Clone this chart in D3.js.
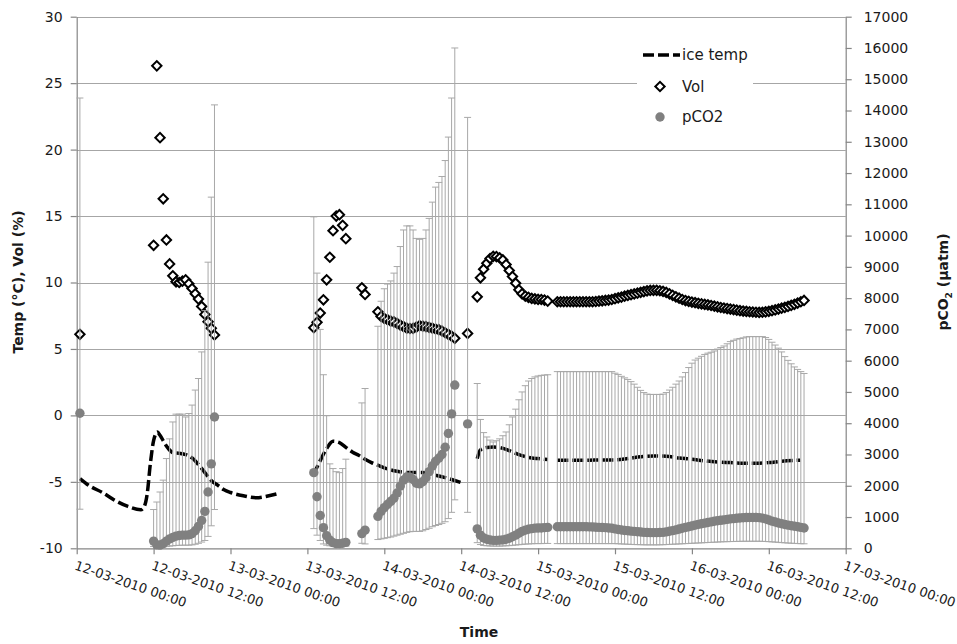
<!DOCTYPE html>
<html><head><meta charset="utf-8">
<script src="https://cdn.jsdelivr.net/npm/d3@7"></script>
<style>
body{margin:0;background:#fff}
svg{display:block}
text{font-family:"DejaVu Sans",sans-serif;fill:#1a1a1a}
</style>
</head><body>
<svg id="c" width="957" height="644"></svg>
<script>
// ---------------- DATA ----------------
// axis tick labels
const leftTicks  = [-10,-5,0,5,10,15,20,25,30];
const rightTicks = [0,1000,2000,3000,4000,5000,6000,7000,8000,9000,10000,11000,12000,13000,14000,15000,16000,17000];
const xTickLabels = ["2010-03-12T00:00","2010-03-12T12:00","2010-03-13T00:00","2010-03-13T12:00","2010-03-14T00:00",
  "2010-03-14T12:00","2010-03-15T00:00","2010-03-15T12:00","2010-03-16T00:00","2010-03-16T12:00","2010-03-17T00:00"];

// measurement runs: start time and number of 30-min samples
const segStart = ["2010-03-12T00:30","2010-03-12T12:00","2010-03-13T13:00","2010-03-13T20:30",
                  "2010-03-13T23:00","2010-03-14T13:00","2010-03-14T14:30","2010-03-15T03:00"];
const segCount = [1, 20, 11, 2, 25, 1, 23, 78];

// Vol (%) – left axis
const volPct = [
 6.1,
 12.8,26.3,20.9,16.3,13.2,11.4,10.5,10.05,10.0,10.1,10.2,9.9,9.55,9.15,8.75,8.2,7.6,7.05,6.55,6.05,
 6.6,7.0,7.7,8.7,10.2,11.9,13.9,15.0,15.1,14.3,13.3,
 9.6,9.1,
 7.8,7.45,7.3,7.2,7.1,7.04,6.92,6.8,6.68,6.56,6.54,6.55,6.65,6.75,6.72,6.68,6.62,6.56,6.5,6.45,6.35,6.22,6.1,5.96,5.8,
 6.17,
 8.92,10.35,11.0,11.45,11.8,11.97,11.95,11.85,11.7,11.35,10.9,10.45,9.95,9.45,9.15,8.98,8.88,8.8,8.76,8.73,8.72,8.68,8.6,
 8.55,8.55,8.55,8.55,8.55,8.55,8.55,8.55,8.55,8.55,8.55,8.55,8.57,8.6,8.62,8.65,8.68,8.72,8.78,8.85,
 8.9,8.97,9.03,9.08,9.14,9.2,9.26,9.32,9.37,9.4,9.41,9.41,9.38,9.33,9.25,9.15,9.03,8.92,8.82,8.72,
 8.64,8.58,8.53,8.48,8.43,8.39,8.35,8.31,8.27,8.22,8.17,8.12,8.08,8.04,8.0,7.96,7.92,7.88,7.85,7.82,
 7.8,7.78,7.76,7.75,7.76,7.79,7.83,7.88,7.94,8.0,8.07,8.13,8.2,8.28,8.36,8.45,8.55,8.65
];

// pCO2 (µatm) – right axis
const pco2 = [
 4320,
 230,110,100,150,230,300,350,390,410,420,420,430,470,560,700,890,1180,1800,2700,4200,
 2420,1650,1050,660,400,260,180,150,150,160,190,
 470,580,
 1020,1180,1300,1400,1500,1600,1770,1990,2180,2280,2270,2200,2080,2060,2130,2260,2450,2630,2780,2880,3000,3230,3670,4300,5220,
 3980,
 620,420,330,290,265,255,255,260,270,290,320,370,420,480,540,580,610,630,645,650,650,660,670,
 690,690,690,690,690,690,690,690,690,690,685,680,675,670,665,660,650,640,620,600,
 585,570,560,550,540,530,520,510,505,500,500,500,505,510,525,545,565,590,615,640,
 665,690,715,740,765,785,805,825,845,865,880,895,910,925,940,950,960,970,978,983,
 985,985,985,980,965,940,905,870,840,810,785,760,740,720,705,690,670,650
];

// pCO2 error bar ends (upper / lower, µatm)
const pco2Hi = [
 14400,
 1240,1480,1800,2180,2870,3500,4040,4290,4290,4290,4200,4310,4580,5060,5430,6280,7600,9150,11230,14180,
 10600,8800,7000,5550,4240,2700,2550,2450,2420,2550,2850,
 4650,5110,
 7100,7900,8300,8450,8550,8800,9010,9650,10180,10310,10310,10180,9910,9880,9910,10180,10550,11070,11550,11700,11890,12400,13150,14400,16000,
 13780,
 5270,4120,3700,3560,3460,3400,3440,3500,3600,3720,3950,4200,4450,4750,5000,5200,5350,5430,5480,5510,5530,5540,5550,
 5650,5650,5650,5650,5650,5650,5650,5650,5650,5650,5650,5650,5650,5650,5650,5650,5650,5650,5600,5560,
 5500,5450,5400,5330,5250,5150,5050,4980,4930,4920,4920,4920,4920,4930,4980,5060,5150,5250,5350,5480,
 5620,5780,5920,6020,6080,6140,6200,6240,6270,6310,6370,6420,6470,6540,6610,6650,6690,6710,6730,6760,
 6770,6770,6770,6770,6770,6740,6680,6590,6500,6400,6280,6130,6010,5900,5800,5720,5650,5590
];
const pco2Lo = [
 1250,
 60,40,40,50,60,70,80,90,95,100,100,100,110,130,160,200,250,380,720,1240,
 630,420,250,140,100,80,70,60,60,65,70,
 160,140,
 280,300,320,340,360,390,420,450,480,510,530,540,540,540,560,600,640,690,730,760,800,850,950,1150,1550,
 1150,
 180,120,90,80,75,70,70,70,75,80,85,95,105,115,125,135,140,145,150,150,150,155,155,
 150,150,150,150,150,150,150,150,150,150,150,150,150,150,150,150,150,150,150,145,
 140,135,130,125,120,118,115,112,110,110,110,110,112,115,120,125,130,135,140,145,
 150,155,160,165,170,175,180,185,190,195,200,205,210,212,215,218,220,222,224,225,
 225,225,225,225,222,218,212,205,198,190,182,175,168,162,157,152,148,145
];

// ice temperature (°C) – hours since 12-03-2010 00:00, null = gap
const iceHours = [0.5,2,4,6,8,10,10.5,11,11.5,12,12.6,13,14,15,16,17,18,19,20,21,22,23,24,26,28,30,31.3,
  34,
  36.9,38,39,40,41,42,43,44,45,46,47,48,50,52,54,56,58,60.3,
  61.5,
  62.5,63,64,65,66,67,68,69,70,71,72,73.5,
  74.2,
  75,76,78,80,82,84,86,88,90,92,94,96,98,100,102,104,106,108,110,112.9];
const iceTemp = [-4.75,-5.3,-5.8,-6.4,-6.85,-7.1,-6.9,-5.9,-3.6,-1.9,-1.25,-1.5,-2.3,-2.8,-2.85,-2.95,-3.2,-3.7,-4.3,-4.9,-5.25,-5.6,-5.8,-6.05,-6.2,-6.05,-5.9,
  null,
  -4.5,-3.4,-2.5,-1.95,-2.05,-2.4,-2.75,-3.0,-3.3,-3.55,-3.75,-3.95,-4.2,-4.3,-4.3,-4.5,-4.75,-5.1,
  null,
  -3.25,-2.6,-2.42,-2.38,-2.42,-2.55,-2.75,-2.95,-3.1,-3.2,-3.25,-3.32,
  null,
  -3.37,-3.38,-3.38,-3.37,-3.35,-3.35,-3.25,-3.12,-3.05,-3.08,-3.2,-3.3,-3.42,-3.5,-3.55,-3.6,-3.6,-3.55,-3.45,-3.37];

// ---------------- CHART ----------------
const m = {left:76.7, right:845.7, top:16.7, bottom:548.3};
const parse = d3.timeParse("%Y-%m-%dT%H:%M");
const tStart = parse("2010-03-12T00:00"), tEnd = parse("2010-03-17T00:00");
const x  = d3.scaleTime().domain([tStart, tEnd]).range([m.left, m.right]);
const yL = d3.scaleLinear().domain([-10, 30]).range([m.bottom, m.top]);
const yR = d3.scaleLinear().domain([0, 17000]).range([m.bottom, m.top]);

const samples = [];
let k = 0;
segStart.forEach((s, i) => {
  const st = parse(s);
  for (let j = 0; j < segCount[i]; j++, k++) {
    samples.push({t: d3.timeMinute.offset(st, 30 * j), vol: volPct[k], p: pco2[k], hi: pco2Hi[k], lo: pco2Lo[k]});
  }
});
const ice = iceHours.map((h, i) => ({t: d3.timeMinute.offset(tStart, Math.round(h * 60)), v: iceTemp[i]}));

const svg = d3.select("#c");
const axisCol = "#868686", gridCol = "#a6a6a6";

// gridlines
svg.append("g").selectAll("line").data(leftTicks.filter(v => v > -10)).join("line")
  .attr("x1", m.left).attr("x2", m.right)
  .attr("y1", d => Math.round(yL(d)) + 0.5).attr("y2", d => Math.round(yL(d)) + 0.5)
  .attr("stroke", gridCol).attr("stroke-width", 1);

// axes
function styleAxis(g) {
  g.select(".domain").attr("stroke", axisCol).attr("stroke-width", 1.2);
  g.selectAll(".tick line").attr("stroke", axisCol).attr("stroke-width", 1.2);
  g.selectAll("text").attr("font-family", "DejaVu Sans").attr("font-size", 14).attr("fill", "#1a1a1a");
}
const gL = svg.append("g").attr("transform", `translate(${m.left},0)`)
  .call(d3.axisLeft(yL).tickValues(leftTicks).tickSize(6).tickSizeOuter(0).tickPadding(8).tickFormat(d => String(d)));
styleAxis(gL);
const gR = svg.append("g").attr("transform", `translate(${m.right},0)`)
  .call(d3.axisRight(yR).tickValues(rightTicks).tickSize(6).tickSizeOuter(0).tickPadding(12).tickFormat(d => String(d)));
styleAxis(gR);
const gB = svg.append("g").attr("transform", `translate(0,${m.bottom})`)
  .call(d3.axisBottom(x).tickValues(xTickLabels.map(parse)).tickSize(6).tickSizeOuter(0)
        .tickFormat(d3.timeFormat("%d-%m-%Y %H:%M")));
styleAxis(gB);
gB.selectAll("text")
  .attr("font-family", "DejaVu Sans Condensed").attr("font-size", 13)
  .attr("text-anchor", "start").attr("x", 0).attr("y", 0).attr("dy", "0.8em")
  .attr("transform", "translate(0,11) rotate(19)");

// axis titles
svg.append("text").attr("transform", "translate(23,282) rotate(-90)").attr("text-anchor", "middle")
  .attr("font-weight", "bold").attr("font-size", 14).text("Temp (°C), Vol (%)");
const rt = svg.append("text").attr("transform", "translate(948,282) rotate(-90)").attr("text-anchor", "middle")
  .attr("font-weight", "bold").attr("font-size", 14);
rt.append("tspan").text("pCO");
rt.append("tspan").attr("font-size", 9).attr("dy", 4).text("2");
rt.append("tspan").attr("dy", -4).text(" (µatm)");
svg.append("text").attr("x", 479).attr("y", 637).attr("text-anchor", "middle")
  .attr("font-weight", "bold").attr("font-size", 14).text("Time");

// ice temp line
const line = d3.line().defined(d => d.v != null).x(d => x(d.t)).y(d => yL(d.v)).curve(d3.curveMonotoneX);
svg.append("path").datum(ice).attr("d", line).attr("fill", "none")
  .attr("stroke", "#000").attr("stroke-width", 3.5).attr("stroke-dasharray", "11,4");

// Vol diamonds
const diamond = d3.symbol(d3.symbolSquare, 44);
svg.append("g").selectAll("path").data(samples).join("path")
  .attr("d", diamond)
  .attr("transform", d => `translate(${x(d.t)},${yL(d.vol)}) rotate(45)`)
  .attr("fill", "#fff").attr("stroke", "#000").attr("stroke-width", 2);

// pCO2 error bars
const eb = svg.append("g").attr("stroke", "#a8a8a8").attr("stroke-width", 1);
eb.selectAll("line.v").data(samples).join("line").attr("class", "v")
  .attr("x1", d => x(d.t)).attr("x2", d => x(d.t)).attr("y1", d => yR(d.lo)).attr("y2", d => yR(d.hi));
eb.selectAll("line.h").data(samples).join("line").attr("class", "h")
  .attr("x1", d => x(d.t) - 3.5).attr("x2", d => x(d.t) + 3.5).attr("y1", d => yR(d.hi)).attr("y2", d => yR(d.hi));
eb.selectAll("line.l").data(samples).join("line").attr("class", "l")
  .attr("x1", d => x(d.t) - 3.5).attr("x2", d => x(d.t) + 3.5).attr("y1", d => yR(d.lo)).attr("y2", d => yR(d.lo));

// pCO2 circles
svg.append("g").selectAll("circle").data(samples).join("circle")
  .attr("cx", d => x(d.t)).attr("cy", d => yR(d.p)).attr("r", 4.7).attr("fill", "#808080");

// legend
const lg = svg.append("g");
lg.append("rect").attr("x", 637).attr("y", 36).attr("width", 116).attr("height", 96).attr("fill", "#fff");
lg.append("line").attr("x1", 643).attr("x2", 680).attr("y1", 55).attr("y2", 55)
  .attr("stroke", "#000").attr("stroke-width", 3.5).attr("stroke-dasharray", "11,4");
lg.append("path").attr("d", diamond).attr("transform", "translate(660,86.5) rotate(45)")
  .attr("fill", "#fff").attr("stroke", "#000").attr("stroke-width", 2);
lg.append("circle").attr("cx", 660).attr("cy", 117).attr("r", 4.7).attr("fill", "#808080");
[["ice temp", 60], ["Vol", 91.5], ["pCO2", 121.5]].forEach(([s, yy]) =>
  lg.append("text").attr("x", 682).attr("y", yy).attr("font-size", 15).text(s));
</script>
</body></html>
